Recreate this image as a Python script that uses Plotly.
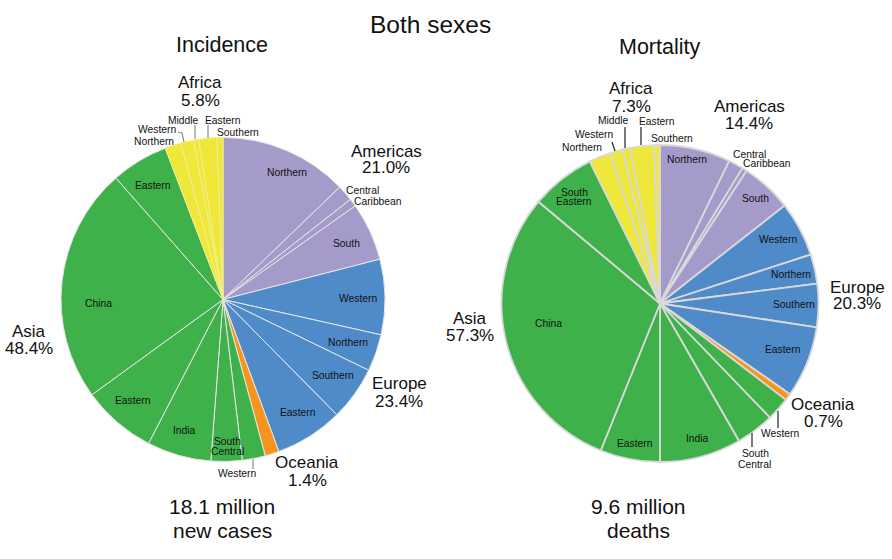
import plotly.graph_objects as go

W, H = 892, 559

# percent of all cases, clockwise from 12 o'clock
incidence_labels = ['Am Northern', 'Am Central', 'Am Caribbean', 'Am South',
                    'Eu Western', 'Eu Northern', 'Eu Southern', 'Eu Eastern',
                    'Oceania',
                    'As Western', 'As South Central', 'As India', 'As Eastern', 'As China', 'As South Eastern',
                    'Af Northern', 'Af Western', 'Af Middle', 'Af Eastern', 'Af Southern']
incidence_values = [12.8, 1.6, 0.8, 5.8,
                    7.5, 3.7, 5.4, 6.8,
                    1.4,
                    2.3, 3.1, 6.4, 7.4, 23.5, 5.7,
                    1.6, 1.3, 0.5, 1.8, 0.6]
mortality_labels = incidence_labels
mortality_values = [7.2, 1.5, 0.5, 5.2,
                    5.6, 3.0, 4.4, 7.3,
                    0.7,
                    2.4, 3.9, 8.3, 6.1, 30.0, 6.6,
                    2.2, 1.3, 0.8, 2.4, 0.6]

PURPLE, BLUE, ORANGE, GREEN, YELLOW = '#a59bcb', '#4f8bc9', '#f7941e', '#3fb14a', '#efe83a'
slice_colors = [PURPLE] * 4 + [BLUE] * 4 + [ORANGE] + [GREEN] * 6 + [YELLOW] * 5
# left pie has thin pale lines, nearly gone on the yellow part
left_lines = ['#e6e6e6'] * 15 + ['#f3ef8c'] * 5

# text, centre x, centre y (pixels in the 892x559 picture)
big_text = [('Africa', 200, 83), ('5.8%', 200, 101),
            ('Americas', 386, 151), ('21.0%', 386, 168),
            ('Europe', 399, 384), ('23.4%', 399, 401),
            ('Oceania', 307, 462), ('1.4%', 307, 480),
            ('Asia', 29, 331), ('48.4%', 29, 348),
            ('Africa', 631, 88), ('7.3%', 631, 106),
            ('Americas', 749, 106), ('14.4%', 749, 123),
            ('Europe', 857, 287), ('20.3%', 857, 303),
            ('Oceania', 823, 404), ('0.7%', 823, 421),
            ('Asia', 470, 318), ('57.3%', 470, 335)]
small_text = [('Middle', 183, 121), ('Eastern', 223, 121), ('Western', 157, 130),
              ('Southern', 238, 132), ('Northern', 154, 141), ('Central', 362, 190),
              ('Caribbean', 378, 201), ('Northern', 287, 173), ('South', 346, 244),
              ('Eastern', 153, 185), ('Western', 358, 298), ('Northern', 348, 342),
              ('Southern', 333, 375), ('Eastern', 298, 412), ('Western', 237, 473),
              ('South', 227, 441), ('Central', 227, 451), ('India', 184, 430),
              ('Eastern', 133, 400), ('China', 98, 303),
              ('Middle', 613, 121), ('Eastern', 657, 122), ('Western', 594, 134),
              ('Southern', 672, 138), ('Northern', 582, 148), ('Central', 749, 154),
              ('Caribbean', 767, 164), ('Northern', 687, 159), ('South', 755, 198),
              ('Western', 778, 240), ('South', 574, 192), ('Eastern', 574, 202),
              ('Northern', 791, 274), ('Southern', 794, 304), ('Eastern', 783, 349),
              ('Western', 780, 433), ('South', 755, 453), ('Central', 754, 464),
              ('India', 697, 438), ('Eastern', 635, 443), ('China', 548, 323)]
head_text = [('Both sexes', 430, 25, 24.5), ('Incidence', 222, 45, 21.5), ('Mortality', 659, 47, 21.5),
             ('18.1 million', 222, 507, 21), ('new cases', 222, 530, 21),
             ('9.6 million', 638, 507, 21), ('deaths', 638, 530, 21)]
# leader lines
grey_leaders = [[(178, 132), (182, 133), (184, 142)], [(195, 125), (195, 139)],
                [(208, 125), (208, 138)], [(253, 459), (253, 469)]]
dark_leaders = [[(612, 142), (615, 151)], [(625, 127), (625, 148)], [(641, 127), (641, 145)],
                [(752, 433), (752, 447)], [(778, 411), (778, 428)]]


def domain(cx, cy, r):
    return dict(x=[(cx - r) / W, (cx + r) / W], y=[(H - cy - r) / H, (H - cy + r) / H])


def add_text(fig, text, x, y, size):
    fig.add_annotation(text=text, x=x / W, y=1 - y / H, xref='paper', yref='paper',
                       showarrow=False, xanchor='center', yanchor='middle',
                       font=dict(size=size, color='#111111'))


def add_leader(fig, pts, color):
    path = 'M ' + ' L '.join('{} {}'.format(x / W, 1 - y / H) for x, y in pts)
    fig.add_shape(type='path', path=path, xref='paper', yref='paper',
                  line=dict(color=color, width=1.2))


fig = go.Figure()
fig.add_trace(go.Pie(labels=incidence_labels, values=incidence_values, sort=False,
                     direction='clockwise', rotation=0, textinfo='none', showlegend=False,
                     marker=dict(colors=slice_colors, line=dict(color=left_lines, width=1)),
                     domain=domain(223, 299.5, 162)))
fig.add_trace(go.Pie(labels=mortality_labels, values=mortality_values, sort=False,
                     direction='clockwise', rotation=0, textinfo='none', showlegend=False,
                     marker=dict(colors=slice_colors, line=dict(color='#d9d9d9', width=1.8)),
                     domain=domain(660, 303.5, 158.5)))

for t, x, y, s in head_text:
    add_text(fig, t, x, y, s)
for t, x, y in big_text:
    add_text(fig, t, x, y, 17)
for t, x, y in small_text:
    add_text(fig, t, x, y, 10.3)
for pts in grey_leaders:
    add_leader(fig, pts, '#8c8c8c')
for pts in dark_leaders:
    add_leader(fig, pts, '#222222')

fig.update_layout(width=W, height=H, margin=dict(l=0, r=0, t=0, b=0),
                  paper_bgcolor='white', showlegend=False,
                  font=dict(family='Liberation Sans'))

# page default margin would push the figure 8px off
fig.write_html("out.html", config=dict(displayModeBar=False),
               post_script="document.body.style.margin='0';")
